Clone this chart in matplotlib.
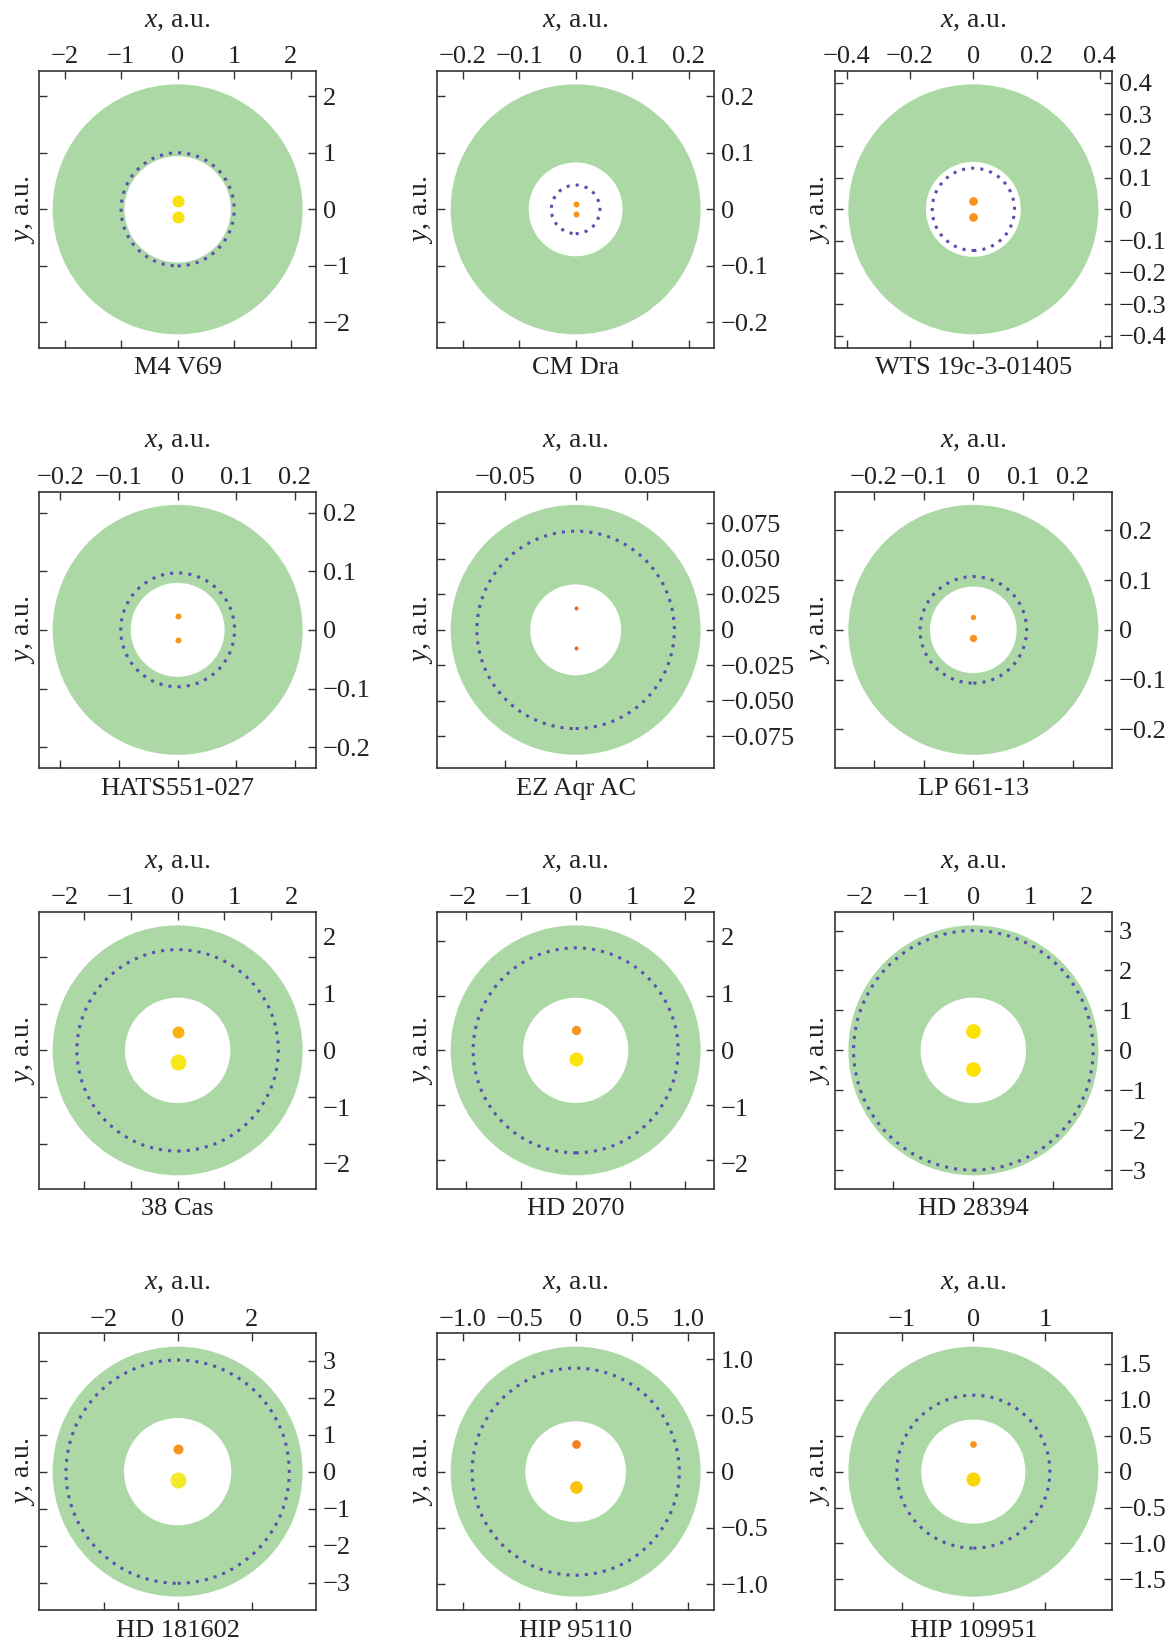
import numpy as np
import matplotlib
matplotlib.use('Agg')
import matplotlib.pyplot as plt
from matplotlib.patches import Wedge, Circle

plt.rcParams['font.family'] = 'Liberation Serif'
plt.rcParams['mathtext.fontset'] = 'custom'
plt.rcParams['mathtext.rm'] = 'Liberation Serif'
plt.rcParams['mathtext.it'] = 'Liberation Serif:italic'

names = ['M4 V69', 'CM Dra', 'WTS 19c-3-01405', 'HATS551-027', 'EZ Aqr AC', 'LP 661-13',
         '38 Cas', 'HD 2070', 'HD 28394', 'HD 181602', 'HIP 95110', 'HIP 109951']

# habitable zone edges, a.u.
hz_inner = [0.94, 0.083, 0.15, 0.08, 0.032, 0.087, 1.13, 0.96, 1.32, 1.45, 0.447, 0.725]
hz_outer = [2.21, 0.221, 0.395, 0.213, 0.088, 0.251, 2.68, 2.28, 3.13, 3.38, 1.11, 1.74]
# planet orbit (dotted), a.u.
orbit = [1.0, 0.043, 0.13, 0.097, 0.0695, 0.107, 2.16, 1.87, 3.0, 3.02, 0.92, 1.065]
# binary components on the y axis, a.u.
star1_y = [0.147, 0.0094, 0.027, 0.023, 0.0157, 0.026, 0.40, 0.37, 0.48, 0.62, 0.249, 0.39]
star2_y = [-0.14, -0.0082, -0.025, -0.017, -0.0129, -0.017, -0.243, -0.164, -0.475, -0.225, -0.133, -0.098]

# tick values (labels)
xticks = [[-2, -1, 0, 1, 2], [-0.2, -0.1, 0, 0.1, 0.2], [-0.4, -0.2, 0, 0.2, 0.4],
          [-0.2, -0.1, 0, 0.1, 0.2], [-0.05, 0, 0.05], [-0.2, -0.1, 0, 0.1, 0.2],
          [-2, -1, 0, 1, 2], [-2, -1, 0, 1, 2], [-2, -1, 0, 1, 2],
          [-2, 0, 2], [-1.0, -0.5, 0, 0.5, 1.0], [-1, 0, 1]]
yticks = [[-2, -1, 0, 1, 2], [-0.2, -0.1, 0, 0.1, 0.2],
          [-0.4, -0.3, -0.2, -0.1, 0, 0.1, 0.2, 0.3, 0.4],
          [-0.2, -0.1, 0, 0.1, 0.2], [-0.075, -0.05, -0.025, 0, 0.025, 0.05, 0.075],
          [-0.2, -0.1, 0, 0.1, 0.2], [-2, -1, 0, 1, 2], [-2, -1, 0, 1, 2],
          [-3, -2, -1, 0, 1, 2, 3], [-3, -2, -1, 0, 1, 2, 3],
          [-1.0, -0.5, 0, 0.5, 1.0], [-1.5, -1.0, -0.5, 0, 0.5, 1.0, 1.5]]
# tick marks that differ from the labels (HD 28394 x axis)
xmarks = {8: [-2, 0, 2]}
xdec = [0, 1, 1, 1, 2, 1, 0, 0, 0, 0, 1, 0]
ydec = [0, 1, 1, 1, 3, 1, 0, 0, 0, 0, 1, 1]
# label axes range where labels do not follow the marks
xlab_half = {6: 2.44, 7: 2.44, 8: 2.44}
ylab_half = {6: 2.44, 7: 2.44}

# marker diameters, px
s1 = [12, 6, 8.7, 6, 4, 5.3, 12, 9.3, 14.7, 10, 8.7, 6.7]
s2 = [12, 6, 8.7, 6, 4, 7.3, 16, 14, 14.7, 16, 12.7, 14]
c1 = ['#fbe10a', '#f7941d', '#f7941d', '#f7941d', '#f26522', '#f7941d',
      '#f9b115', '#f7941d', '#fbe200', '#f7941d', '#f58220', '#f7941d']
c2 = ['#fbe10a', '#f7941d', '#f7941d', '#f7941d', '#f26522', '#f7941d',
      '#f6e81c', '#fbe30e', '#fbe200', '#f2ea2c', '#fcc30d', '#fcd505']

green = '#acd8a6'
violet = '#5a4fb0'
dark = '#333333'
txt = '#222222'


def fmt(v, d):
    if abs(v) < 1e-12:
        return '0'
    s = '%.*f' % (d, abs(v))
    return ('\u2212' if v < 0 else '') + s


fig = plt.figure(figsize=(11.69, 16.46), dpi=100)
W, H = 1169.0, 1646.0
lefts = [39.3, 437.3, 835.0]
tops = [71.0, 491.5, 912.0, 1333.3]
size = 276.7

for i, name in enumerate(names):
    r, c = divmod(i, 3)
    ax = fig.add_axes([lefts[c] / W, 1 - (tops[r] + size) / H, size / W, size / H])
    lim = 1.107 * hz_outer[i]
    ax.set_xlim(-lim, lim)
    ax.set_ylim(-lim, lim)

    ax.add_patch(Wedge((0, 0), hz_outer[i], 0, 360, width=hz_outer[i] - hz_inner[i],
                       facecolor=green, edgecolor='none'))
    ax.add_patch(Circle((0, 0), orbit[i], fill=False, edgecolor=violet, lw=2.2,
                        linestyle=(0, (1, 2.0))))
    ax.plot([0], [star1_y[i]], 'o', ms=s1[i] * 0.72, color=c1[i], mec='none')
    ax.plot([0], [star2_y[i]], 'o', ms=s2[i] * 0.72, color=c2[i], mec='none')

    ax.set_xticks(xmarks.get(i, xticks[i]))
    ax.set_yticks(yticks[i])
    ax.tick_params(direction='in', top=True, bottom=True, left=True, right=True,
                   labeltop=False, labelbottom=False, labelleft=False, labelright=False,
                   length=6, width=1, color=dark)
    for sp in ax.spines.values():
        sp.set_linewidth(1.2)
        sp.set_color(dark)

    kx = xlab_half.get(i, lim) / lim
    ky = ylab_half.get(i, lim) / lim
    secx = ax.secondary_xaxis('top', functions=(lambda v, k=kx: v * k, lambda v, k=kx: v / k))
    secx.set_xticks(xticks[i], [fmt(v, xdec[i]) for v in xticks[i]])
    secx.tick_params(length=0, pad=2, labelsize=19, colors=txt)
    secx.spines['top'].set_visible(False)
    secx.set_xlabel('$x$, a.u.', fontsize=20, labelpad=14, color=txt)

    secy = ax.secondary_yaxis('right', functions=(lambda v, k=ky: v * k, lambda v, k=ky: v / k))
    secy.set_yticks(yticks[i], [fmt(v, ydec[i]) for v in yticks[i]])
    secy.tick_params(length=0, pad=5, labelsize=19, colors=txt)
    secy.spines['right'].set_visible(False)

    ax.set_ylabel('$y$, a.u.', fontsize=20, labelpad=2, color=txt)
    ax.text(0.5, -0.035, name, transform=ax.transAxes, ha='center', va='top',
            fontsize=19, color=txt)

fig.savefig('out.png', dpi=100)
